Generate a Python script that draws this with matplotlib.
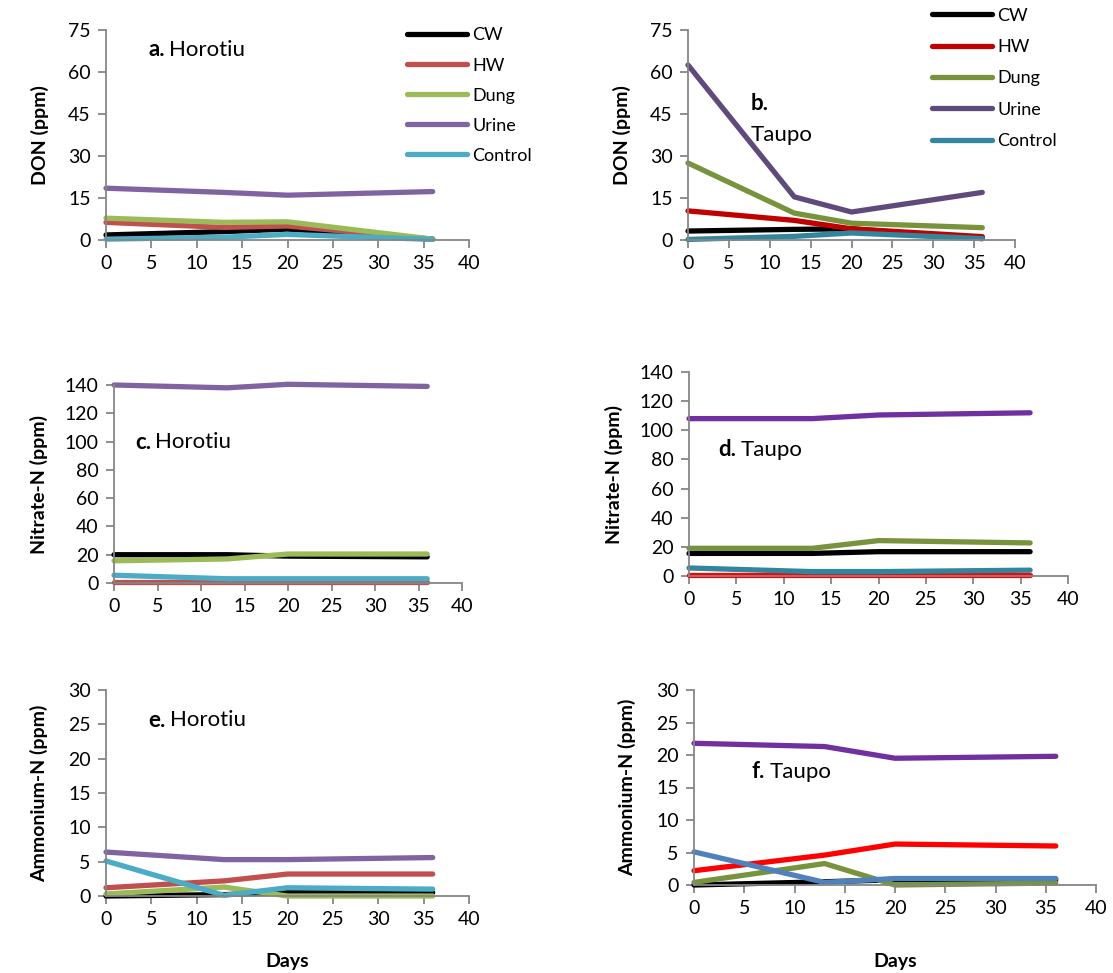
import matplotlib.pyplot as plt

plt.rcParams['font.family'] = ['Lato', 'DejaVu Sans']

days = [0, 13, 20, 36]
series_names = ['CW', 'HW', 'Dung', 'Urine', 'Control']

# DON (ppm)
don_horotiu = {
    'CW': [1.8, 3.0, 3.9, 0.3],
    'HW': [6.3, 4.5, 5.0, 0.3],
    'Dung': [7.8, 6.3, 6.5, 0.3],
    'Urine': [18.5, 17.0, 16.0, 17.3],
    'Control': [0.3, 1.0, 2.0, 0.2],
}
don_taupo = {
    'CW': [3.2, 3.8, 4.0, 0.5],
    'HW': [10.4, 7.0, 4.0, 1.2],
    'Dung': [27.5, 9.6, 6.0, 4.4],
    'Urine': [62.5, 15.4, 10.0, 17.0],
    'Control': [0.2, 1.3, 2.5, 0.5],
}
# Nitrate-N (ppm)
no3_horotiu = {
    'CW': [20.0, 20.0, 19.0, 18.5],
    'HW': [1.0, 1.0, 1.0, 1.0],
    'Dung': [15.7, 17.0, 20.5, 20.5],
    'Urine': [140.0, 138.0, 140.5, 139.0],
    'Control': [5.5, 3.0, 3.0, 3.0],
}
no3_taupo = {
    'CW': [15.5, 15.5, 16.7, 16.7],
    'HW': [1.0, 1.0, 1.0, 1.0],
    'Dung': [19.0, 19.0, 24.3, 22.7],
    'Urine': [108.0, 108.0, 110.5, 112.0],
    'Control': [5.5, 3.0, 3.0, 4.0],
}
# Ammonium-N (ppm)
nh4_horotiu = {
    'CW': [0.0, 0.2, 0.5, 0.5],
    'HW': [1.2, 2.2, 3.2, 3.2],
    'Dung': [0.3, 1.3, 0.0, 0.0],
    'Urine': [6.4, 5.3, 5.3, 5.6],
    'Control': [5.1, 0.1, 1.2, 1.0],
}
nh4_taupo = {
    'CW': [0.0, 0.5, 0.8, 0.8],
    'HW': [2.2, 4.6, 6.3, 6.0],
    'Dung': [0.4, 3.3, 0.0, 0.3],
    'Urine': [21.8, 21.3, 19.5, 19.8],
    'Control': [5.1, 0.4, 1.0, 1.0],
}

col_a = {'CW': '#000000', 'HW': '#C0504D', 'Dung': '#9BBB59', 'Urine': '#8064A2', 'Control': '#4BACC6'}
col_b = {'CW': '#000000', 'HW': '#C00000', 'Dung': '#77933C', 'Urine': '#604A7B', 'Control': '#31859C'}
col_d = {'CW': '#000000', 'HW': '#FF0000', 'Dung': '#77933C', 'Urine': '#7030A0', 'Control': '#31859C'}
col_f = {'CW': '#000000', 'HW': '#FF0000', 'Dung': '#77933C', 'Urine': '#7030A0', 'Control': '#4F81BD'}

W, H = 1113, 973
fig = plt.figure(figsize=(W / 100, H / 100), dpi=100)


def make_ax(left, right, top, bottom):
    return fig.add_axes([left / W, 1 - bottom / H, (right - left) / W, (bottom - top) / H])


def style(ax, ymax, ystep, ylabel, lpad=14):
    ax.set_xlim(0, 40)
    ax.set_ylim(0, ymax)
    ax.set_xticks(range(0, 41, 5))
    ax.set_yticks(range(0, ymax + 1, ystep))
    for s in ['top', 'right']:
        ax.spines[s].set_visible(False)
    for s in ['left', 'bottom']:
        ax.spines[s].set_color('#868686')
        ax.spines[s].set_linewidth(1.3)
    ax.tick_params(direction='out', length=6, width=1.3, color='#868686', labelsize=14, pad=5)
    ax.set_ylabel(ylabel, fontsize=14, fontweight='bold', labelpad=lpad)


def draw(ax, data, colors):
    for name in series_names:
        ax.plot(days, data[name], color=colors[name], lw=3.8, label=name,
                solid_capstyle='round', solid_joinstyle='round', clip_on=False)


def title(ax, letter, site, x, y, newline=False):
    t = ax.text(x, y, letter, transform=ax.transAxes, fontsize=16, fontweight='bold',
                va='center', ha='left')
    if newline:
        ax.annotate(site, xy=(0, 0.5), xycoords=t, xytext=(0, -23), textcoords='offset points',
                    fontsize=16, va='center', ha='left')
    else:
        ax.annotate(site, xy=(1, 0.5), xycoords=t, xytext=(3, 0), textcoords='offset points',
                    fontsize=16, va='center', ha='left')


leg_kw = dict(loc='upper left', frameon=False, fontsize=13, handlelength=3.3,
              handletextpad=0.3, borderpad=0)

ax_a = make_ax(106, 469, 30, 240)
draw(ax_a, don_horotiu, col_a)
style(ax_a, 75, 15, 'DON (ppm)')
title(ax_a, 'a.', 'Horotiu', 0.116, 0.905)
ax_a.legend(bbox_to_anchor=(0.805, 1.055), labelspacing=0.78, **leg_kw)

ax_b = make_ax(688, 1015, 30, 240)
draw(ax_b, don_taupo, col_b)
style(ax_b, 75, 15, 'DON (ppm)')
title(ax_b, 'b.', 'Taupo', 0.19, 0.652, newline=True)
ax_b.legend(bbox_to_anchor=(0.72, 1.15), labelspacing=0.85, **leg_kw)

ax_c = make_ax(114, 462, 385, 583)
draw(ax_c, no3_horotiu, col_a)
style(ax_c, 140, 20, 'Nitrate-N (ppm)', lpad=12)
title(ax_c, 'c.', 'Horotiu', 0.06, 0.712)

ax_d = make_ax(689, 1068, 372, 576)
draw(ax_d, no3_taupo, col_d)
style(ax_d, 140, 20, 'Nitrate-N (ppm)', lpad=12)
title(ax_d, 'd.', 'Taupo', 0.077, 0.618)

ax_e = make_ax(106, 469, 690, 896)
draw(ax_e, nh4_horotiu, col_a)
style(ax_e, 30, 5, 'Ammonium-N (ppm)')
title(ax_e, 'e.', 'Horotiu', 0.116, 0.854)
ax_e.set_xlabel('Days', fontsize=14, fontweight='bold', labelpad=18)

ax_f = make_ax(694, 1096, 690, 885)
draw(ax_f, nh4_taupo, col_f)
style(ax_f, 30, 5, 'Ammonium-N (ppm)')
title(ax_f, 'f.', 'Taupo', 0.144, 0.58)
ax_f.set_xlabel('Days', fontsize=14, fontweight='bold', labelpad=26)

fig.savefig('out.png', dpi=100)
